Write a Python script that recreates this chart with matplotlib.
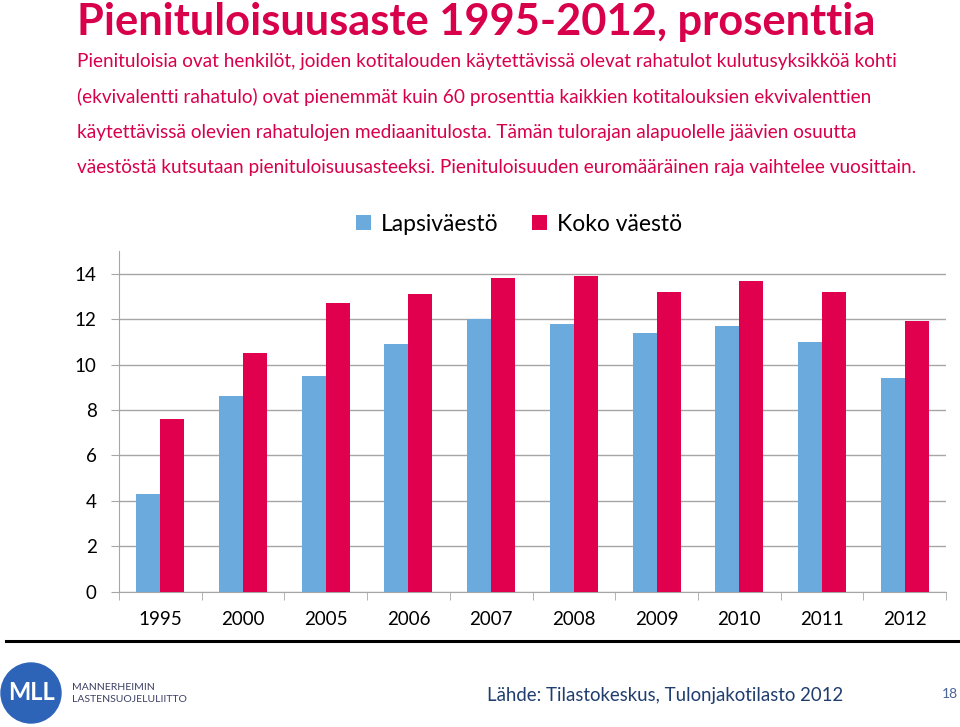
import numpy as np
import matplotlib.pyplot as plt
from matplotlib.patches import Circle

# data
years = ["1995", "2000", "2005", "2006", "2007", "2008", "2009", "2010", "2011", "2012"]
lapsivaesto = [4.3, 8.6, 9.5, 10.9, 12.0, 11.8, 11.4, 11.7, 11.0, 9.4]
koko_vaesto = [7.6, 10.5, 12.7, 13.1, 13.8, 13.9, 13.2, 13.7, 13.2, 11.9]
yticks = [0, 2, 4, 6, 8, 10, 12, 14]

blue = "#6BAADC"
red = "#E0004E"
pink_text = "#D8004B"
grid_col = "#A6A6A6"

plt.rcParams['font.family'] = ['Lato', 'DejaVu Sans']

fig = plt.figure(figsize=(9.6, 7.27), dpi=100)

# title and intro text
fig.text(77 / 960, 1 - 22 / 727, "Pienituloisuusaste 1995-2012, prosenttia",
         fontsize=31.2, fontweight='bold', color=pink_text, va='center', ha='left')
lines = [
    "Pienituloisia ovat henkilöt, joiden kotitalouden käytettävissä olevat rahatulot kulutusyksikköä kohti",
    "(ekvivalentti rahatulo) ovat pienemmät kuin 60 prosenttia kaikkien kotitalouksien ekvivalenttien",
    "käytettävissä olevien rahatulojen mediaanitulosta. Tämän tulorajan alapuolelle jäävien osuutta",
    "väestöstä kutsutaan pienituloisuusasteeksi. Pienituloisuuden euromääräinen raja vaihtelee vuosittain.",
]
for i, ln in enumerate(lines):
    fig.text(77 / 960, 1 - (62 + i * 35.3) / 727, ln, fontsize=13.7,
             color=pink_text, va='center', ha='left')

# bar chart
ax = fig.add_axes([119 / 960, 1 - 591.7 / 727, 827 / 960, 340.7 / 727])
x = np.arange(len(years))
w = 0.29
ax.bar(x - w / 2, lapsivaesto, w, color=blue, label="Lapsiväestö", zorder=3)
ax.bar(x + w / 2, koko_vaesto, w, color=red, label="Koko väestö", zorder=3)

ax.set_xlim(-0.5, len(years) - 0.5)
ax.set_ylim(0, 15)
ax.set_yticks(yticks)
ax.set_yticklabels([str(t) for t in yticks], fontsize=13.5)
ax.set_xticks(x)
ax.set_xticklabels(years, fontsize=13.5)
ax.set_xticks(np.arange(len(years) + 1) - 0.5, minor=True)
ax.tick_params(axis='x', which='major', length=0, pad=14)
ax.tick_params(axis='x', which='minor', length=6, color=grid_col, direction='out')
ax.tick_params(axis='y', length=6, color=grid_col, pad=10)
ax.yaxis.grid(True, color=grid_col, linewidth=1)
ax.set_axisbelow(True)
for s in ['top', 'right']:
    ax.spines[s].set_visible(False)
for s in ['left', 'bottom']:
    ax.spines[s].set_color(grid_col)

ax.legend(loc='center', bbox_to_anchor=(519 / 960, 1 - 224 / 727),
          bbox_transform=fig.transFigure, ncol=2, frameon=False,
          fontsize=16.5, handlelength=0.65, handleheight=0.65,
          handletextpad=0.4, columnspacing=1.5)

# footer
fig.add_artist(plt.Line2D([6 / 960, 1.0], [1 - 641 / 727, 1 - 641 / 727],
                          color='black', linewidth=2.2, transform=fig.transFigure))
fig.text(487 / 960, 1 - 695 / 727, "Lähde: Tilastokeskus, Tulonjakotilasto 2012",
         fontsize=13.4, color="#1F3D6E", va='center', ha='left')
fig.text(950 / 960, 1 - 694 / 727, "18", fontsize=10, color="#4A6494",
         va='center', ha='center')

# MLL logo
logo_ax = fig.add_axes([0, 0, 1, 1], facecolor='none')
logo_ax.set_xlim(0, 960)
logo_ax.set_ylim(727, 0)
logo_ax.axis('off')
logo_ax.add_patch(Circle((31, 693), 30, color="#2E64B8"))
logo_ax.text(32, 692, "MLL", color='white', fontsize=17, fontweight='bold',
             ha='center', va='center')
logo_ax.text(72, 688, "MANNERHEIMIN", color="#3B3F63", fontsize=7.5,
             ha='left', va='center')
logo_ax.text(72, 700, "LASTENSUOJELULIITTO", color="#3B3F63", fontsize=7.5,
             ha='left', va='center')

fig.savefig("out.png", dpi=100)
